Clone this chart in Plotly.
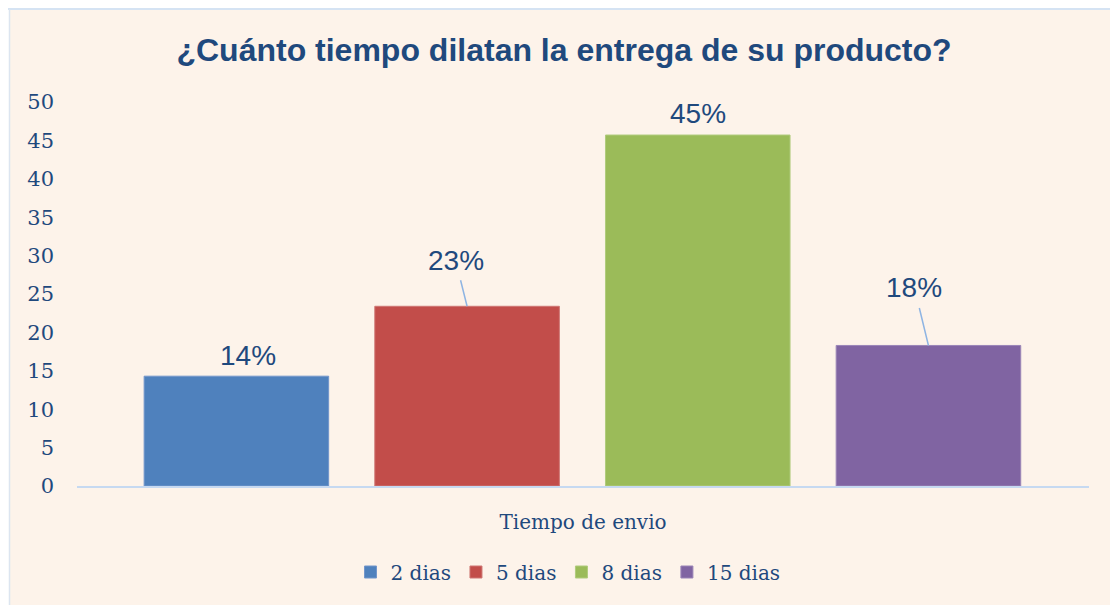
import plotly.graph_objects as go

# Datos
categorias = ['2 dias', '5 dias', '8 dias', '15 dias']
valores = [14.3, 23.4, 45.7, 18.3]
etiquetas = ['14%', '23%', '45%', '18%']
colores = ['#4F81BD', '#C24D4A', '#9BBB59', '#8064A2']
bordes = ['#7396CB', '#CF7774', '#B0CB7D', '#9A84B7']
y_ticks = list(range(0, 51, 5))

TEXTO = '#1F497D'
FONDO = '#FDF3EA'
LINEA = '#C6D9F1'

# la pagina deja 8px de margen en el body
OFF = 8
W, H = 1118 - OFF, 605 - OFF
ML, MR, MT, MB = 77 - OFF, 29, 102 - OFF, 119
PW = W - ML - MR
PH = H - MT - MB


def px_x(p):
    # p en coordenadas de pantalla
    return (p - OFF - ML) / PW


def px_y(p):
    return (H - MB - (p - OFF)) / PH


fig = go.Figure()

for cat, val, col, bor in zip(categorias, valores, colores, bordes):
    fig.add_trace(go.Bar(
        x=[cat],
        y=[val],
        name=cat,
        width=0.8,
        marker=dict(color=col, line=dict(color=bor, width=1)),
        hovertemplate='%{x}: %{y}<extra></extra>',
    ))

# Etiquetas de datos (offset en px, algunas con linea guia)
offsets = [(12, 21, False), (-11.5, -46, True), (0, 22, False), (-14, -57.5, True)]
annotations = []
for cat, val, lab, (dx, dy, guia) in zip(categorias, valores, etiquetas, offsets):
    a = dict(
        x=cat, y=val, text=lab,
        font=dict(family='Liberation Sans, Arial', size=28, color=TEXTO),
    )
    if guia:
        a.update(showarrow=True, ax=dx, ay=dy, arrowhead=0, arrowwidth=1.5,
                 arrowcolor='#8EB4E3', standoff=0, borderpad=4)
    else:
        a.update(showarrow=False, xshift=dx, yshift=dy)
    annotations.append(a)

shapes = [
    # fondo crema
    dict(type='rect', xref='paper', yref='paper',
         x0=px_x(9.5), x1=px_x(1125), y0=px_y(612), y1=px_y(9),
         fillcolor=FONDO, line=dict(width=0), layer='below'),
    dict(type='line', xref='paper', yref='paper',
         x0=px_x(0), x1=px_x(1125), y0=px_y(9), y1=px_y(9),
         line=dict(color='#D5E3F3', width=2), layer='below'),
    dict(type='line', xref='paper', yref='paper',
         x0=px_x(9.5), x1=px_x(9.5), y0=px_y(9), y1=px_y(612),
         line=dict(color='#DCE5F0', width=1.5), layer='below'),
]

fig.update_layout(
    width=W, height=H,
    margin=dict(l=ML, r=MR, t=MT, b=MB),
    paper_bgcolor='white',
    plot_bgcolor='rgba(0,0,0,0)',
    barmode='overlay',
    title=dict(
        text='<b>¿Cuánto tiempo dilatan la entrega de su producto?</b>',
        font=dict(family='Liberation Sans, Arial', size=32, color=TEXTO),
        x=(564 - OFF) / W, xanchor='center',
        y=1 - (50 - OFF) / H, yanchor='middle',
    ),
    xaxis=dict(
        range=[-0.691, 3.696],
        showticklabels=False,
        showgrid=False,
        showline=True, linecolor=LINEA, linewidth=2,
        title=dict(text='Tiempo de envio', standoff=28,
                   font=dict(family='DejaVu Serif', size=20, color=TEXTO)),
    ),
    yaxis=dict(
        range=[0, 50],
        tickvals=y_ticks,
        showgrid=False,
        zeroline=False,
        showline=False,
        ticklabelstandoff=22,
        tickfont=dict(family='DejaVu Serif', size=21, color=TEXTO),
    ),
    legend=dict(
        orientation='h',
        x=px_x(568), xanchor='center',
        y=px_y(572), yanchor='middle',
        font=dict(family='DejaVu Serif', size=20, color=TEXTO),
        itemwidth=30,
        bgcolor='rgba(0,0,0,0)',
    ),
    annotations=annotations,
    shapes=shapes,
)

fig.write_html('out.html')
